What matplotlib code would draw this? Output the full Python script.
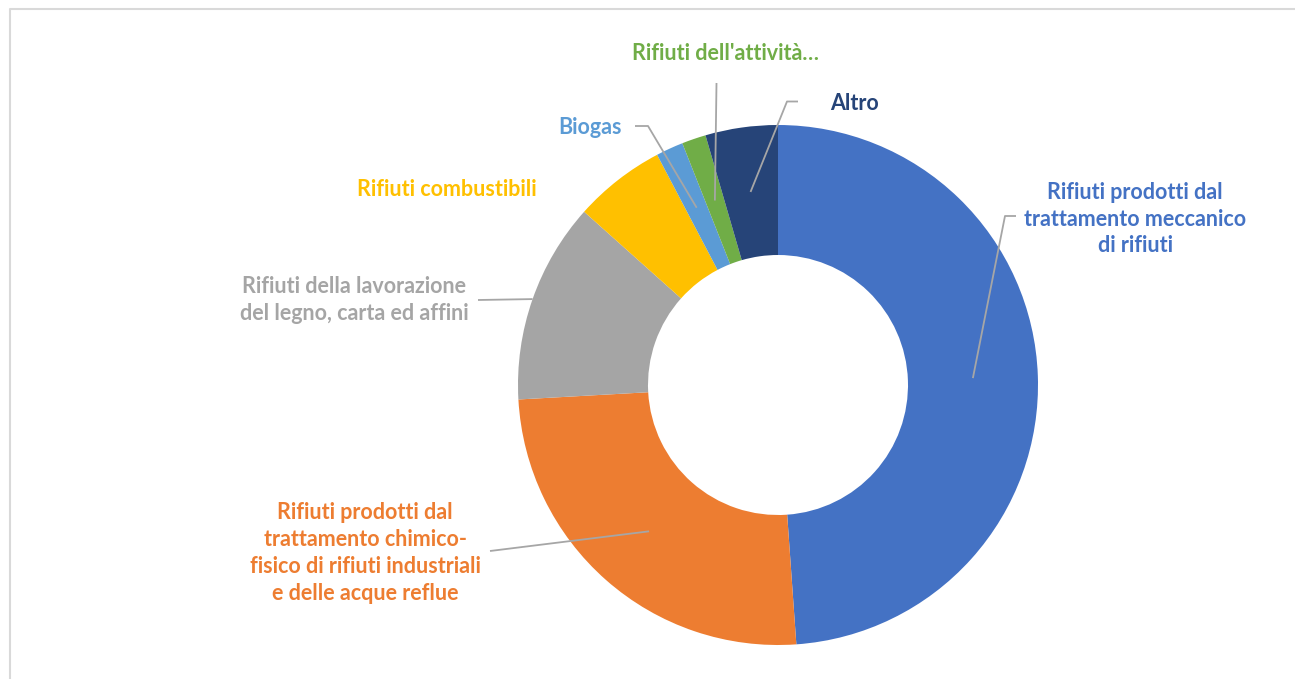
import numpy as np
import matplotlib.pyplot as plt

# dati della ciambella (percentuali)
categorie = ["Rifiuti prodotti dal\ntrattamento meccanico\ndi rifiuti",
             "Rifiuti prodotti dal\ntrattamento chimico-\nfisico di rifiuti industriali\ne delle acque reflue",
             "Rifiuti della lavorazione\ndel legno, carta ed affini",
             "Rifiuti combustibili",
             "Biogas",
             "Rifiuti dell'attività…",
             "Altro"]
valori = [48.9, 25.25, 12.5, 5.7, 1.7, 1.5, 4.5]
colori = ["#4472C4", "#ED7D31", "#A5A5A5", "#FFC000", "#5B9BD5", "#70AD47", "#264478"]

W, H = 1295, 679
cx, cy = 778, 385
R, ring = 260, 130

plt.rcParams['font.family'] = ['Lato', 'DejaVu Sans']

fig = plt.figure(figsize=(W / 100, H / 100), dpi=100)
ax = fig.add_axes([0, 0, 1, 1])

# asse y invertito: startangle=-90 -> ore 12, senso orario a video
wedges, _ = ax.pie(valori, colors=colori, center=(cx, cy), radius=R,
                   startangle=-90, counterclock=True,
                   wedgeprops=dict(width=ring, linewidth=0))
ax.set_xlim(0, W)
ax.set_ylim(H, 0)
ax.axis('off')

# cornice
ax.plot([10, 10, W + 5], [H + 5, 9, 9], color="#D9D9D9", lw=1.5, clip_on=False)

# posizione etichette e punto di partenza della linea guida
etichette = [
    dict(xy=(1135, 219), start=[(1016, 216), (1005, 216)], r=195),
    dict(xy=(365, 553), start=[(490, 551)], r=195),
    dict(xy=(354, 300), start=[(478, 300)], r=R),
    dict(xy=(447, 189), start=None, r=195),
    dict(xy=(590, 128), start=[(635, 126), (648, 126)], r=195),
    dict(xy=(725, 54), start=[(716.5, 83)], r=195),
    dict(xy=(855, 103), start=[(798, 101.5), (787, 101.5)], r=195),
]

for w, lab, col, e in zip(wedges, categorie, colori, etichette):
    ax.text(e['xy'][0], e['xy'][1], lab, ha='center', va='center',
            multialignment='center', color=col, fontsize=15.5,
            fontweight='bold', linespacing=1.34)
    if e['start'] is None:
        continue
    t = np.deg2rad((w.theta1 + w.theta2) / 2)
    px, py = cx + e['r'] * np.cos(t), cy + e['r'] * np.sin(t)
    xs = [p[0] for p in e['start']] + [px]
    ys = [p[1] for p in e['start']] + [py]
    ax.plot(xs, ys, color="#A6A6A6", lw=1.3, solid_capstyle='butt')

fig.savefig("out.png", dpi=100)
